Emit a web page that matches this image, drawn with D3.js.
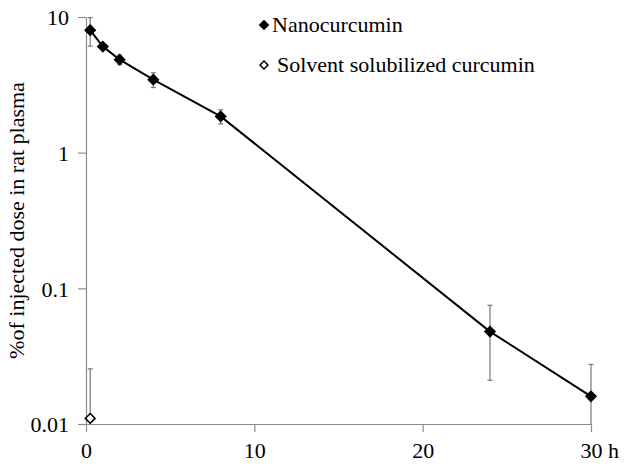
<!DOCTYPE html>
<html>
<head>
<meta charset="utf-8">
<script src="https://cdn.jsdelivr.net/npm/d3@7"></script>
<style>
  body { margin: 0; background: #fff; }
</style>
</head>
<body>
<div id="chart"></div>
<script>
// data
var nanoHours = [0.25, 1, 2, 4, 8, 24, 30];
var nanoDose = [8.0, 6.05, 4.85, 3.45, 1.85, 0.048, 0.016];
var nanoErr = [1.9, 0.3, 0.4, 0.43, 0.22, 0.027, 0.0115];

var solvHours = [0.25];
var solvDose = [0.011];
var solvErr = [0.0145];

var xTicks = [0, 10, 20, 30];
var xTickLabels = ["0", "10", "20", "30 h"];
var yTicks = [0.01, 0.1, 1, 10];
var yTickLabels = ["0.01", "0.1", "1", "10"];

var seriesNames = ["Nanocurcumin", "Solvent solubilized curcumin"];

var svgWidth = 629;
var svgHeight = 469;

var margin = { top: 17, right: 38, bottom: 45, left: 86 };
var width = svgWidth - margin.left - margin.right;
var height = svgHeight - margin.top - margin.bottom;

// set font on a text selection, strongly enough to win over any page css
function serifText(sel, size) {
    sel.each(function () {
        this.style.setProperty("font-family", "'Liberation Serif', serif", "important");
        this.style.setProperty("font-size", size + "px", "important");
        this.style.setProperty("fill", "#000", "important");
    });
}

var svg = d3.select("#chart")
    .append("svg")
    .attr("width", svgWidth)
    .attr("height", svgHeight);

var chartGroup = svg.append("g")
    .attr("transform", `translate(${margin.left}, ${margin.top})`);

var xScale = d3.scaleLinear().domain([0, 30]).range([0, width]);
var yScale = d3.scaleLog().domain([0.01, 10]).range([height, 0]);

// axes
var bottomAxis = d3.axisBottom(xScale)
    .tickValues(xTicks)
    .tickSize(8)
    .tickSizeOuter(0)
    .tickPadding(10)
    .tickFormat((d, i) => xTickLabels[i]);

var leftAxis = d3.axisLeft(yScale)
    .tickValues(yTicks)
    .tickSize(8)
    .tickSizeOuter(0)
    .tickPadding(9)
    .tickFormat((d, i) => yTickLabels[i]);

var xAxisG = chartGroup.append("g")
    .attr("transform", `translate(0, ${height})`)
    .call(bottomAxis);

var yAxisG = chartGroup.append("g")
    .call(leftAxis);

[xAxisG, yAxisG].forEach(function (g) {
    g.selectAll("path, line").attr("stroke", "#8c8c8c").attr("stroke-width", 1.2);
    serifText(g.selectAll("text"), 22);
});
yAxisG.selectAll("text").attr("dy", "0.35em");
// "30 h" sits with the number centred on the tick
xAxisG.selectAll("text").filter((d, i) => i === 3)
    .attr("text-anchor", "start")
    .attr("dx", -11);

// error bars
function drawErrors(hours, vals, errs) {
    var g = chartGroup.append("g");
    hours.forEach(function (h, i) {
        var x = xScale(h);
        var top = yScale(vals[i] + errs[i]);
        var lo = vals[i] - errs[i];
        var bot = lo > 0.01 ? yScale(lo) : height;
        g.append("line")
            .attr("x1", x).attr("x2", x)
            .attr("y1", top).attr("y2", bot)
            .attr("stroke", "#777").attr("stroke-width", 1.2);
        g.append("line")
            .attr("x1", x - 2.5).attr("x2", x + 2.5)
            .attr("y1", top).attr("y2", top)
            .attr("stroke", "#777").attr("stroke-width", 1.2);
        if (lo > 0.01) {
            g.append("line")
                .attr("x1", x - 2.5).attr("x2", x + 2.5)
                .attr("y1", bot).attr("y2", bot)
                .attr("stroke", "#777").attr("stroke-width", 1.2);
        }
    });
}
drawErrors(nanoHours, nanoDose, nanoErr);
drawErrors(solvHours, solvDose, solvErr);

// line
var nanoData = nanoHours.map((h, i) => ({ h: h, v: nanoDose[i] }));
var line = d3.line()
    .x(d => xScale(d.h))
    .y(d => yScale(d.v));

chartGroup.append("path")
    .datum(nanoData)
    .attr("d", line)
    .attr("fill", "none")
    .attr("stroke", "#000")
    .attr("stroke-width", 2);

var diamond = d3.symbol().type(d3.symbolDiamond2);

chartGroup.selectAll(".nano")
    .data(nanoData)
    .enter()
    .append("path")
    .attr("class", "nano")
    .attr("d", diamond.size(95)())
    .attr("transform", d => `translate(${xScale(d.h)}, ${yScale(d.v)})`)
    .attr("fill", "#000");

var solvData = solvHours.map((h, i) => ({ h: h, v: solvDose[i] }));
chartGroup.selectAll(".solv")
    .data(solvData)
    .enter()
    .append("path")
    .attr("class", "solv")
    .attr("d", diamond.size(60)())
    .attr("transform", d => `translate(${xScale(d.h)}, ${yScale(d.v)})`)
    .attr("fill", "#fff")
    .attr("stroke", "#000")
    .attr("stroke-width", 1.6);

// legend
var legend = svg.append("g");
seriesNames.forEach(function (name, i) {
    var ly = 25 + i * 40;
    legend.append("path")
        .attr("d", diamond.size(i === 0 ? 70 : 40)())
        .attr("transform", `translate(264, ${ly})`)
        .attr("fill", i === 0 ? "#000" : "#fff")
        .attr("stroke", "#000")
        .attr("stroke-width", i === 0 ? 0 : 1.5);
    legend.append("text")
        .attr("x", i === 0 ? 272 : 277)
        .attr("y", ly + 7)
        .text(name)
        .call(serifText, 22);
});

// y axis label
svg.append("text")
    .attr("transform", `translate(24, ${margin.top + height / 2}) rotate(-90)`)
    .attr("text-anchor", "middle")
    .text("%of injected dose in rat plasma")
    .call(serifText, 22);
</script>
</body>
</html>
